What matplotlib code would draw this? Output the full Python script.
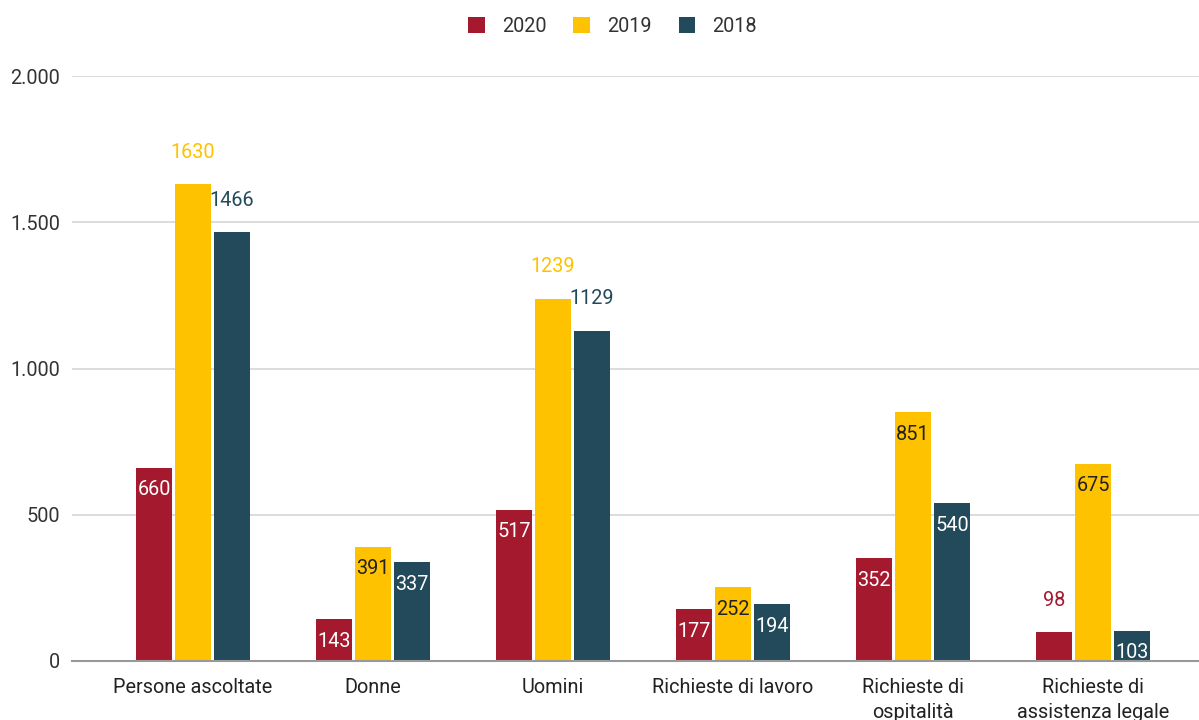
import matplotlib
matplotlib.use("Agg")
import matplotlib.pyplot as plt
from matplotlib.ticker import FuncFormatter
import numpy as np

categories = ["Persone ascoltate", "Donne", "Uomini", "Richieste di lavoro",
              "Richieste di\nospitalità", "Richieste di\nassistenza legale"]
series_names = ["2020", "2019", "2018"]
v2020 = [660, 143, 517, 177, 352, 98]
v2019 = [1630, 391, 1239, 252, 851, 675]
v2018 = [1466, 337, 1129, 194, 540, 103]
# label placement: True = outside (above) the bar
out2020 = [False, False, False, False, False, True]
out2019 = [True, False, True, False, False, False]
out2018 = [True, False, True, False, False, False]

colors = ["#A5192F", "#FEC200", "#234A5B"]
inside_text = ["white", "#222222", "white"]

plt.rcParams['font.family'] = ['Roboto', 'DejaVu Sans']
FS = 14.3

fig = plt.figure(figsize=(11.99, 7.2), dpi=100)
ax = fig.add_axes([72/1199, 1-661/720, 1-72/1199, 585/720])

x = np.arange(len(categories))
step = 0.2167
width = 0.2
data = [v2020, v2019, v2018]
outs = [out2020, out2019, out2018]

for i, (vals, name, col) in enumerate(zip(data, series_names, colors)):
    xs = x + (i - 1) * step
    ax.bar(xs, vals, width=width, color=col, label=name, zorder=3)
    for xi, v, o in zip(xs, vals, outs[i]):
        if o:
            ax.annotate(str(v), (xi, v), xytext=(0, 32), textcoords="offset pixels",
                        ha="center", va="center", fontsize=FS, color=col, zorder=4)
        else:
            ax.annotate(str(v), (xi, v), xytext=(0, -22), textcoords="offset pixels",
                        ha="center", va="center", fontsize=FS, color=inside_text[i], zorder=4)

ax.set_xlim((72-193)/180, (1199-193)/180)
ax.set_ylim(0, 2000)
ax.set_yticks([0, 500, 1000, 1500, 2000])
ax.yaxis.set_major_formatter(FuncFormatter(lambda v, p: f"{int(v):,}".replace(",", ".")))
ax.set_xticks(x)
ax.set_xticklabels(categories, fontsize=FS, color="#222222", linespacing=1.35)
ax.tick_params(axis='y', length=0, pad=8.5, labelsize=FS, labelcolor="#333333")
ax.tick_params(axis='x', length=0, pad=12.5)
ax.grid(axis='y', color="#d6d6d6", linewidth=1.2, zorder=0)
for s in ["top", "right", "left"]:
    ax.spines[s].set_visible(False)
ax.spines["bottom"].set_color("#999999")
ax.spines["bottom"].set_linewidth(1.5)
ax.spines["bottom"].set_zorder(5)

leg = fig.legend(loc="center", bbox_to_anchor=(0.511, 1-26/720), ncol=3, frameon=False,
                 fontsize=FS, handlelength=0.85, handleheight=0.85, columnspacing=1.35,
                 handletextpad=0.85)
for t in leg.get_texts():
    t.set_color("#333333")

fig.savefig("out.png", dpi=100)
